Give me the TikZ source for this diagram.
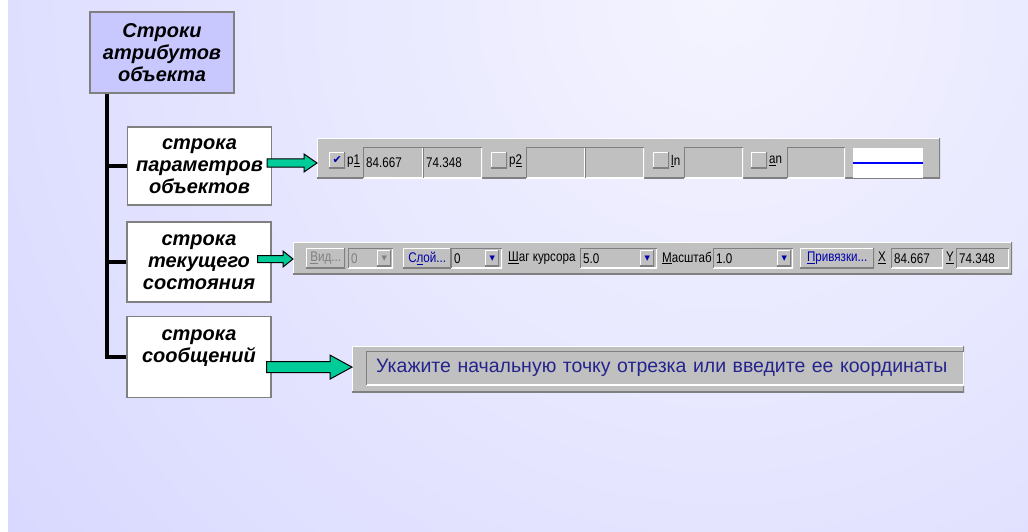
\documentclass[tikz,border=0pt]{standalone}
\usepackage{fontspec}
\setmainfont{Liberation Sans}
\newfontfamily\tbfont[FakeStretch=0.83]{Liberation Sans}
\newfontfamily\msgfont{Liberation Sans}
\newfontfamily\symfont{DejaVu Sans}
\usetikzlibrary{calc,positioning}

\definecolor{bglav}{RGB}{204,204,255}
\definecolor{bgtop}{RGB}{244,244,255}
\definecolor{rootfill}{RGB}{200,200,255}
\definecolor{boxline}{RGB}{128,128,128}
\definecolor{tbgray}{RGB}{192,192,192}
\definecolor{tbdark}{RGB}{128,128,128}
\definecolor{arrowgreen}{RGB}{0,204,153}
\definecolor{msgblue}{RGB}{36,36,140}
\definecolor{linkblue}{RGB}{0,0,170}

\newcommand\droptri{{\symfont\fontsize{7}{7}\selectfont\color{linkblue}▼}}
% block arrow: tail, tip, half shaft, half head, head length
\newcommand\blockarrow[5]{%
  \draw[greenarrow] let \p1=(#1), \p2=(#2) in
    (\x1,{\y1+#3pt}) -- ({\x2-#5pt},{\y1+#3pt}) -- ({\x2-#5pt},{\y1+#4pt}) -- (\x2,\y1)
    -- ({\x2-#5pt},{\y1-#4pt}) -- ({\x2-#5pt},{\y1-#3pt}) -- (\x1,{\y1-#3pt}) -- cycle;}

\begin{document}
\begin{tikzpicture}[x=1pt,y=-1pt,
    descbox/.style={draw=boxline, line width=1.2pt, fill=white, inner sep=0, minimum width=144pt,
      align=center, font=\fontsize{20}{22}\selectfont\bfseries\itshape},
    trunk/.style={line width=4pt},
    greenarrow/.style={draw=black, fill=arrowgreen, line width=1pt},
    raised/.style={fill=tbgray, path picture={
        \draw[white, line width=2pt] (path picture bounding box.south west) |- (path picture bounding box.north east);
        \draw[tbdark, line width=2pt] (path picture bounding box.south west) -| (path picture bounding box.north east);}},
    sunken/.style={fill=tbgray, path picture={
        \draw[white, line width=2pt] (path picture bounding box.south west) -| (path picture bounding box.north east);
        \draw[tbdark, line width=2pt] (path picture bounding box.south west) |- (path picture bounding box.north east);}},
    tbitem/.style={anchor=north west, inner sep=0, font=\tbfont\fontsize{14}{14}\selectfont},
    field/.style 2 args={tbitem, sunken, minimum height=#2, text width=#1-6pt, inner xsep=3pt, align=left},
    button/.style 2 args={tbitem, raised, minimum width=#1, minimum height=#2},
    tblabel/.style={anchor=west, inner sep=0, font=\tbfont\fontsize{14}{14}\selectfont},
  ]
  \useasboundingbox (0,0) rectangle (1028,532);
  % background
  \fill[white] (0,0) rectangle (1028,532);
  \begin{scope}
    \clip (8,0) rectangle (1028,532);
    \fill[bglav] (8,0) rectangle (1028,532);
    \shade[inner color=bgtop, outer color=bglav] (720,0) circle (1300pt);
  \end{scope}

  % object parameters bar
  \node[tbitem, raised, minimum width=623pt, minimum height=40pt] (tbA) at (317,138) {};
  \node[button={16pt}{16pt}] (chkP1) at (329,152) {\symfont\fontsize{11}{11}\selectfont\color{linkblue}✔};
  \node[tblabel] (labP1) at (347,161) {p\underline{1}};
  \node[field={60pt}{31pt}] (fP1x) at (363,147) {84.667};
  \node[field={59pt}{31pt}] (fP1y) at (423,147) {74.348};
  \node[button={16pt}{16pt}] (chkP2) at (491,152) {};
  \node[tblabel] (labP2) at (509,161) {p\underline{2}};
  \node[field={59pt}{31pt}] (fP2x) at (526,147) {};
  \node[field={59pt}{31pt}] (fP2y) at (585,147) {};
  \node[button={16pt}{16pt}] (chkLn) at (653,152) {};
  \node[tblabel] (labLn) at (671,161) {\underline{l}n};
  \node[field={59pt}{31pt}] (fLn) at (684,147) {};
  \node[button={16pt}{16pt}] (chkAn) at (751,152) {};
  \node[tblabel] (labAn) at (769,161) {\underline{a}n};
  \node[field={58pt}{31pt}] (fAn) at (787,147) {};
  \node[tbitem, fill=white, minimum width=70pt, minimum height=30pt] (styleBox) at (853,148) {};
  \draw[blue, line width=1.5pt] (styleBox.west) -- (styleBox.east);

  % current state bar
  \node[tbitem, raised, minimum width=719pt, minimum height=32pt] (tbB) at (293,242) {};
  \node[button={39pt}{20pt}, text=tbdark] (btnView) at (306,248) {\underline{В}ид...};
  \node[field={45pt}{20pt}, text=tbdark] (cbView) at (348,248) {0};
  \node[button={14pt}{16pt}] (dropView) at (377,250) {{\symfont\fontsize{7}{7}\selectfont\color{tbdark}▼}};
  \node[button={48pt}{20pt}, text=linkblue] (btnLayer) at (403,248) {С\underline{л}ой...};
  \node[field={51pt}{20pt}] (cbLayer) at (451,248) {0};
  \node[button={14pt}{16pt}] (dropLayer) at (485,250) {\droptri};
  \node[tblabel] (labStep) at (508,258) {\underline{Ш}аг курсора};
  \node[field={77pt}{20pt}] (cbStep) at (580,248) {5.0};
  \node[button={14pt}{16pt}] (dropStep) at (640,250) {\droptri};
  \node[tblabel] (labScale) at (662,258) {\underline{М}асштаб};
  \node[field={80pt}{20pt}] (cbScale) at (713,248) {1.0};
  \node[button={14pt}{16pt}] (dropScale) at (777,250) {\droptri};
  \node[button={74pt}{20pt}, text=linkblue] (btnSnap) at (800,248) {\underline{П}ривязки...};
  \node[tblabel] (labX) at (878,258) {\underline{X}};
  \node[field={52pt}{20pt}] (fX) at (891,248) {84.667};
  \node[tblabel] (labY) at (946,258) {\underline{Y}};
  \node[field={53pt}{20pt}] (fY) at (956,248) {74.348};

  % message bar
  \node[tbitem, raised, minimum width=612pt, minimum height=46pt] (tbC) at (352,346) {};
  \node[tbitem, sunken, text width=578pt, inner xsep=10pt, minimum height=34pt, align=left,
    text=msgblue, font=\msgfont\fontsize{19.5}{19.5}\selectfont] (msgField) at (366,351)
    {Укажите начальную точку отрезка или введите ее координаты};

  % tree
  \node[descbox, fill=rootfill, minimum height=81pt] (root) at (162,52.5) {Строки\\атрибутов\\объекта};
  \coordinate (spine) at ([xshift=18pt]root.south west);
  \draw[trunk] (spine) |- (199,356.5);
  \draw[trunk] (spine |- 0,166) -- (199,166);
  \draw[trunk] (spine |- 0,262) -- (199,262);
  \node[descbox, minimum height=78pt] (pA) at (199.5,166) {строка\\параметров\\объектов};
  \node[descbox, minimum height=80pt] (pB) at (199,262) {строка\\текущего\\состояния};
  \node[descbox, anchor=north, text height=46pt, text depth=35pt] (pC) at (199,316) {строка\\сообщений};

  \blockarrow{[shift={(-5,-3)}]pA.east}{tbA.west}{4}{9}{13}
  \blockarrow{[shift={(-14,-3)}]pB.east}{tbB.west}{3.5}{8}{10}
  \blockarrow{[shift={(-5,10)}]pC.east}{tbC.west}{5.5}{12}{22}
\end{tikzpicture}
\end{document}
